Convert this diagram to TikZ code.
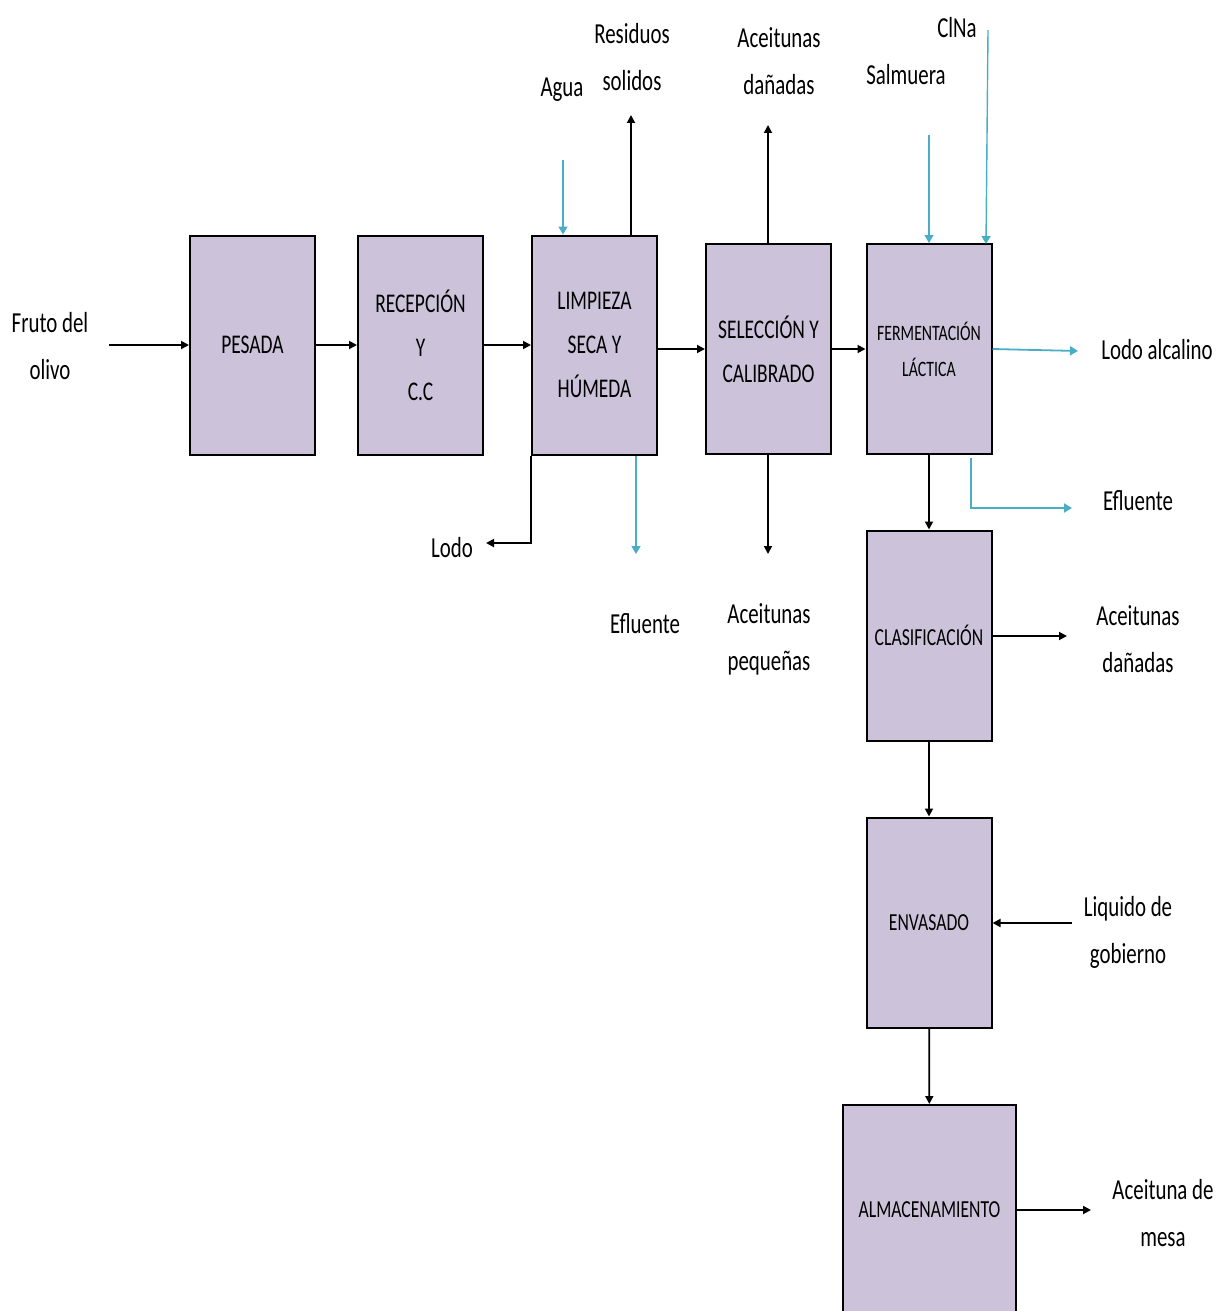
\documentclass[tikz,border=0pt]{standalone}
\usepackage{fontspec}
\setmainfont{Carlito}[FakeStretch=0.72]
\usetikzlibrary{arrows.meta}
\definecolor{boxfill}{HTML}{CCC3DA}
\definecolor{flowblue}{HTML}{4BACC6}
\begin{document}
\begin{tikzpicture}[x=1pt,y=-1pt,
  stage/.style={draw=black,line width=2pt,fill=boxfill,inner sep=0pt,
    minimum width=125pt,minimum height=210pt,align=center,
    font=\fontsize{27}{44}\selectfont},
  lbl/.style={align=center,inner sep=0pt,font=\fontsize{29}{47}\selectfont},
  arr/.style={line width=1.8pt,-{Triangle[width=8pt,length=8pt]}},
  barr/.style={arr,draw=flowblue,-{Triangle[width=9pt,length=8pt,fill=flowblue]}}]
\useasboundingbox (0,0) rectangle (1217,1311);
\clip (0,0) rectangle (1217,1311);

% process stages
\node[stage,minimum height=219pt] (pesada) at (252.5,345) {PESADA};
\node[stage,minimum height=219pt] (recep) at (420.5,345) {RECEPCIÓN\\Y\\C.C};
\node[stage,minimum height=219pt] (limp) at (594.5,345) {LIMPIEZA\\SECA Y\\HÚMEDA};
\node[stage] (selec) at (768.5,349) {SELECCIÓN Y\\CALIBRADO};
\node[stage,font=\fontsize{22}{36}\selectfont] (ferm) at (929,349) {FERMENTACIÓN\\LÁCTICA};
\node[stage,font=\fontsize{24.5}{40}\selectfont] (clas) at (929,635.5) {CLASIFICACIÓN};
\node[stage,font=\fontsize{24.5}{40}\selectfont] (envas) at (929,922.5) {ENVASADO};
\node[stage,minimum width=173pt,font=\fontsize{24.5}{40}\selectfont] (almac) at (929.5,1210) {ALMACENAMIENTO};

% labels
\node[lbl] (fruto) at (50,346) {Fruto del\\olivo};
\node[lbl] (agua) at (562,90) {Agua};
\node[lbl] (resid) at (632,57) {Residuos\\solidos};
\node[lbl] (danT) at (779,61) {Aceitunas\\dañadas};
\node[lbl] (salm) at (906,75) {Salmuera};
\node[lbl] (clna) at (957,28) {ClNa};
\node[lbl] (lodoalc) at (1157,350) {Lodo alcalino};
\node[lbl] (eflR) at (1138,501) {Efluente};
\node[lbl] (lodo) at (452,548) {Lodo};
\node[lbl] (eflB) at (645,624) {Efluente};
\node[lbl] (peq) at (769,639) {Aceitunas\\pequeñas};
\node[lbl] (danR) at (1138,639) {Aceitunas\\dañadas};
\node[lbl] (liq) at (1128,932) {Liquido de\\gobierno};
\node[lbl] (mesa) at (1163,1213) {Aceituna de\\mesa};

% free ends of the streams
\coordinate (frutoEnd) at (109,345);
\coordinate (aguaStart) at (563,160);
\coordinate (residEnd) at (631,115);
\coordinate (danTEnd) at (768,125);
\coordinate (salmStart) at (929,135);
\coordinate (clnaStart) at (988,30);
\coordinate (lodoalcEnd) at (1078,351);
\coordinate (eflRStart) at (971,458);
\coordinate (eflREnd) at (1072,508);
\coordinate (lodoEnd) at (486,543);
\coordinate (eflBEnd) at (636,554);
\coordinate (peqEnd) at (768,554);
\coordinate (danREnd) at (1067,636);
\coordinate (liqStart) at (1072,923);
\coordinate (mesaEnd) at (1091,1210);

% main line
\draw[arr] (frutoEnd) -- (pesada.west |- frutoEnd);
\draw[arr] (pesada) -- (recep);
\draw[arr] (recep) -- (limp);
\draw[arr] (limp.east |- selec.west) -- (selec.west);
\draw[arr] (selec) -- (ferm);
\draw[arr] (ferm) -- (clas);
\draw[arr] (clas) -- (envas);
\draw[arr] (envas) -- (almac);

% inputs and outputs
\draw[barr,line width=1.4pt] (aguaStart) -- (aguaStart |- limp.north);
\draw[arr] (limp.north -| residEnd) -- (residEnd);
\draw[arr] (selec.north -| danTEnd) -- (danTEnd);
\draw[barr,line width=1.4pt] (salmStart) -- (salmStart |- ferm.north);
\draw[barr,line width=1.4pt] (clnaStart) -- (986,244);
\draw[barr] (ferm.east |- 0,349) -- (lodoalcEnd);
\draw[barr] (eflRStart) |- (eflREnd);
\draw[arr] (limp.south west) |- (lodoEnd);
\draw[barr,line width=1.4pt] (limp.south -| eflBEnd) -- (eflBEnd);
\draw[arr] (selec.south -| peqEnd) -- (peqEnd);
\draw[arr] (clas.east |- danREnd) -- (danREnd);
\draw[arr] (liqStart) -- (envas.east |- liqStart);
\draw[arr] (almac.east |- mesaEnd) -- (mesaEnd);
\end{tikzpicture}
\end{document}
